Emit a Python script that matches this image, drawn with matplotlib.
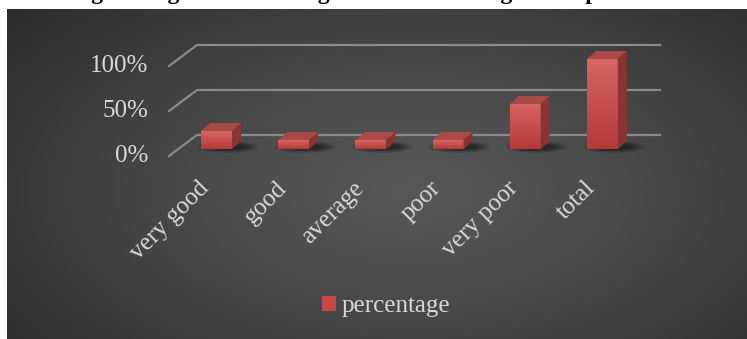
import numpy as np
import matplotlib
matplotlib.use("Agg")
import matplotlib.pyplot as plt
from matplotlib.patches import Polygon, Ellipse, Patch
from matplotlib.lines import Line2D
from matplotlib.transforms import ScaledTranslation

# data
categories = ["very good", "good", "average", "poor", "very poor", "total"]
percentage = [0.20, 0.10, 0.10, 0.10, 0.50, 1.00]
ytick_vals = [0.0, 0.5, 1.0]
ytick_labels = ["0%", "50%", "100%"]
series_name = "percentage"
title = "Figure: cigarette smoking behaviour among the respondents"

plt.rcParams['font.family'] = ['Liberation Serif', 'DejaVu Serif']
txt_col = "#d9d9d9"

W, H = 747, 339
fig = plt.figure(figsize=(W / 100, H / 100), dpi=100)
fig.patch.set_facecolor("white")

# dark radial background panel
bg = fig.add_axes([7 / W, 0, (W - 7) / W, (H - 9) / H])
yy, xx = np.mgrid[0:1:200j, 0:1:400j]
r = np.sqrt(((xx - 0.55) / 0.75) ** 2 + ((yy - 0.45) / 0.9) ** 2)
r = np.clip(r, 0, 1)
shade = 0.34 - 0.18 * r ** 1.3
img = np.dstack([shade, shade, shade])
bg.imshow(img, extent=[0, 1, 0, 1], aspect="auto", origin="lower")
bg.set_xlim(0, 1)
bg.set_ylim(0, 1)
bg.axis("off")

# plotting plane of the bar fronts
ax = fig.add_axes([178 / W, 190 / H, 463 / W, 90 / H])
ax.set_xlim(-0.5, 5.5)
ax.set_ylim(0, 1)
ax.axis("off")
ax.patch.set_alpha(0)

inv = fig.transFigure.inverted()


def fpt(x, y, dx=0, dy=0):
    p = ax.transData.transform((x, y))
    return inv.transform((p[0] + dx, p[1] + dy))


# wall/floor offsets in pixels
back = (19, 14)
front = (-9, -7)

# gridlines (floor edge + back wall)
for v in ytick_vals:
    pts = [fpt(-0.5, v, *front), fpt(-0.5, v, *back), fpt(5.5, v, *back)]
    pts = np.array(pts)
    bg.add_line(Line2D(pts[:, 0], pts[:, 1], transform=fig.transFigure,
                       color="#8a8a8a", lw=1.6))

for v, lab in zip(ytick_vals, ytick_labels):
    p = fpt(-0.5, v, front[0] - 21, front[1])
    fig.text(p[0], p[1], lab, ha="right", va="center", fontsize=18, color=txt_col)

# bars
bw = 0.4
dep = (9, 8)
x = np.arange(len(categories))
bars = ax.bar(x, percentage, width=bw, color="#c84646", zorder=3)

grad = np.linspace(0, 1, 100).reshape(-1, 1)
top_c = np.array([0.84, 0.40, 0.39])
bot_c = np.array([0.71, 0.22, 0.22])
gimg = bot_c[None, None, :] * (1 - grad[:, :, None]) + top_c[None, None, :] * grad[:, :, None]

for xi, v, b in zip(x, percentage, bars):
    # shadow on the floor
    c = fpt(xi + 0.08, 0, 5, 2)
    for k, a in enumerate([0.10, 0.13, 0.16, 0.20]):
        e = Ellipse(c, (62 - 8 * k) / W, (12 - 2 * k) / H, transform=fig.transFigure,
                    facecolor="black", alpha=a, edgecolor="none", zorder=1)
        ax.add_artist(e)
        e.set_clip_on(False)
    im = ax.imshow(gimg, extent=[xi - bw / 2, xi + bw / 2, 0, v], aspect="auto",
                   origin="lower", zorder=4)
    im.set_clip_path(b)
    top = [fpt(xi - bw / 2, v), fpt(xi + bw / 2, v),
           fpt(xi + bw / 2, v, *dep), fpt(xi - bw / 2, v, *dep)]
    side = [fpt(xi + bw / 2, 0), fpt(xi + bw / 2, v),
            fpt(xi + bw / 2, v, *dep), fpt(xi + bw / 2, 0, *dep)]
    ax.add_patch(Polygon(top, closed=True, transform=fig.transFigure,
                         facecolor="#a84a48", edgecolor="none", zorder=5, clip_on=False))
    ax.add_patch(Polygon(side, closed=True, transform=fig.transFigure,
                         facecolor="#8a3432", edgecolor="none", zorder=5, clip_on=False))

ax.set_xlim(-0.5, 5.5)
ax.set_ylim(0, 1)

# category labels
off = ax.transData + ScaledTranslation(-3 / 100, -28 / 100, fig.dpi_scale_trans)
for xi, lab in zip(x, categories):
    ax.text(xi, 0, lab, transform=off, rotation=45, ha="right", va="top",
            fontsize=18, color=txt_col, clip_on=False)

# legend
fig.legend(handles=[Patch(facecolor="#c84646", edgecolor="none")], labels=[series_name],
           loc="center", bbox_to_anchor=(386 / W, 1 - 306 / H), frameon=False,
           handlelength=0.56, handleheight=0.56, handletextpad=0.25,
           fontsize=18, labelcolor=txt_col)

# title (cut off at the top, as in the source image)
fig.text(0.5, 1 + 1 / H, title, ha="center", va="baseline", fontsize=17,
         fontweight="bold", color="black")

fig.savefig("out.png", dpi=100)
